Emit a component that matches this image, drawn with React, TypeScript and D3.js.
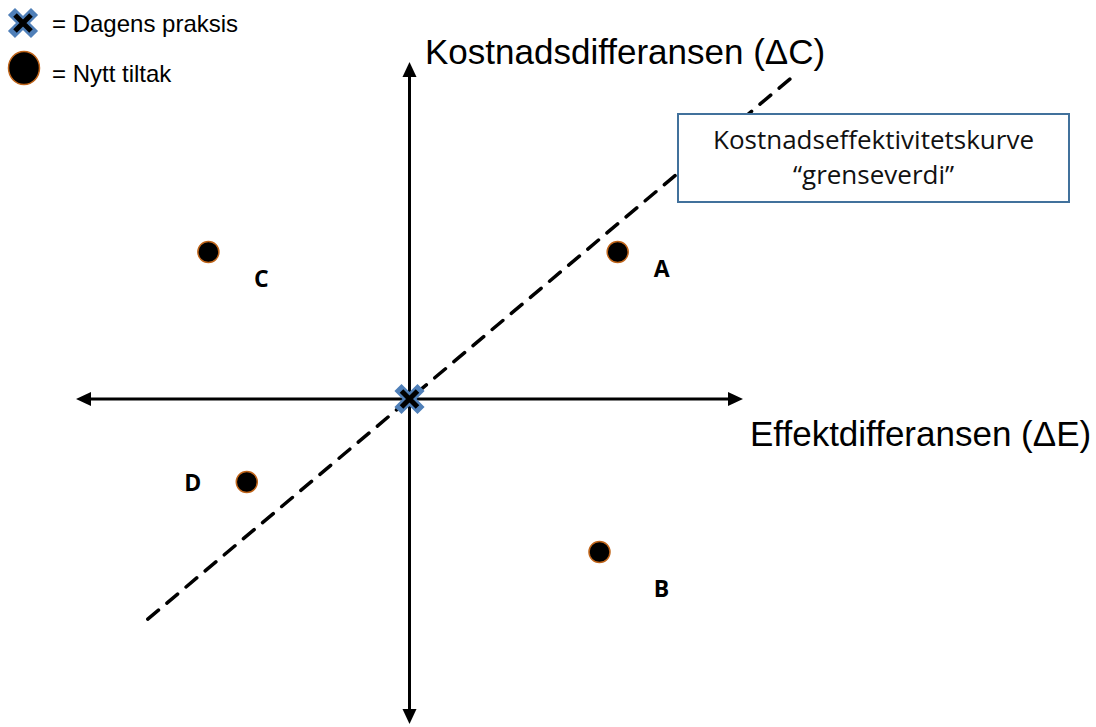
import React from "react";
import * as d3 from "d3";

// ---- data ----
const pointNames = ["A", "B", "C", "D"];
const effectDiff = [20.6, 18.8, -19.9, -16.1]; // ΔE
const costDiff = [14.7, -15.3, 14.7, -8.3]; // ΔC
const thresholdSlope = 0.85;
const thresholdRange = [-25.9, 38.3];
const xDomain = [-33, 33];
const yDomain = [-32.5, 33.7];
const xAxisLabel = "Effektdifferansen (ΔE)";
const yAxisLabel = "Kostnadsdifferansen (ΔC)";
const boxLines = ["Kostnadseffektivitetskurve", "\u201Cgrenseverdi\u201D"];
const legendItems = ["= Dagens praksis", "= Nytt tiltak"];

// label offsets (pixels, layout only)
const labelOffset: Record<string, [number, number]> = {
  A: [44, 16],
  B: [62, 36],
  C: [53, 26],
  D: [-54, 0],
};

const W = 1096;
const H = 727;

export default function App() {
  const x = d3.scaleLinear().domain(xDomain).range([76, 743]);
  const y = d3.scaleLinear().domain(yDomain).range([724, 62]);
  const x0 = x(0);
  const y0 = y(0);

  const line = d3
    .line<number>()
    .x((d) => x(d))
    .y((d) => y(d * thresholdSlope));

  const ah = 15; // arrow length
  const aw = 7; // arrow half width
  const xL = x(xDomain[0]);
  const xR = x(xDomain[1]);
  const yT = y(yDomain[1]);
  const yB = y(yDomain[0]);

  const sans = "'Liberation Sans', Arial, sans-serif";
  const calib = "'Open Sans', Lato, sans-serif";

  const xMark = (cx: number, cy: number, s: number) =>
    `M${cx - s},${cy - s}L${cx + s},${cy + s}M${cx + s},${cy - s}L${cx - s},${cy + s}`;

  return (
    <svg
      width={W}
      height={H}
      style={{ position: "absolute", left: 0, top: 0, background: "#fff" }}
    >
      {/* threshold dashed line */}
      <path
        d={line(thresholdRange) || ""}
        fill="none"
        stroke="#000"
        strokeWidth={3.5}
        strokeDasharray="14 11"
        strokeLinecap="round"
      />

      {/* axes */}
      <line x1={xL + ah - 2} x2={xR - ah + 2} y1={y0} y2={y0} stroke="#000" strokeWidth={3} />
      <line x1={x0} x2={x0} y1={yT + ah - 2} y2={yB - ah + 2} stroke="#000" strokeWidth={3} />
      <path d={`M${xL},${y0}L${xL + ah},${y0 - aw}L${xL + ah},${y0 + aw}Z`} fill="#000" />
      <path d={`M${xR},${y0}L${xR - ah},${y0 - aw}L${xR - ah},${y0 + aw}Z`} fill="#000" />
      <path d={`M${x0},${yT}L${x0 - aw},${yT + ah}L${x0 + aw},${yT + ah}Z`} fill="#000" />
      <path d={`M${x0},${yB}L${x0 - aw},${yB - ah}L${x0 + aw},${yB - ah}Z`} fill="#000" />

      {/* axis labels */}
      <text x={425} y={64} fontFamily={sans} fontSize={35} fill="#000">
        {yAxisLabel}
      </text>
      <text x={750} y={446} fontFamily={sans} fontSize={35} fill="#000">
        {xAxisLabel}
      </text>

      {/* origin marker */}
      <path d={xMark(x0, y0, 8)} stroke="#4f7fb8" strokeWidth={10} strokeLinecap="square" />
      <path d={xMark(x0, y0, 8)} stroke="#000" strokeWidth={5} strokeLinecap="butt" />

      {/* points */}
      {pointNames.map((n, i) => (
        <g key={n}>
          <circle
            cx={x(effectDiff[i])}
            cy={y(costDiff[i])}
            r={10.5}
            fill="#000"
            stroke="#c0651a"
            strokeWidth={1.5}
          />
          <text
            x={x(effectDiff[i]) + labelOffset[n][0]}
            y={y(costDiff[i]) + labelOffset[n][1]}
            fontFamily={calib}
            fontWeight={700}
            fontSize={23}
            textAnchor="middle"
            dominantBaseline="central"
            fill="#000"
          >
            {n}
          </text>
        </g>
      ))}

      {/* annotation box */}
      <rect x={678} y={114} width={391} height={88} fill="#fff" stroke="#41719c" strokeWidth={2} />
      {boxLines.map((t, i) => (
        <text
          key={i}
          x={873.5}
          y={149 + i * 35}
          fontFamily={calib}
          fontSize={26}
          textAnchor="middle"
          fill="#111"
        >
          {t}
        </text>
      ))}

      {/* legend */}
      <path d={xMark(23, 23, 8)} stroke="#4f7fb8" strokeWidth={10} strokeLinecap="square" />
      <path d={xMark(23, 23, 8)} stroke="#000" strokeWidth={5} strokeLinecap="butt" />
      <text x={52} y={32} fontFamily={sans} fontSize={24} fill="#000">
        {legendItems[0]}
      </text>
      <ellipse cx={24} cy={68} rx={15.5} ry={16.5} fill="#000" stroke="#c0651a" strokeWidth={1.5} />
      <text x={52} y={82} fontFamily={sans} fontSize={24} fill="#000">
        {legendItems[1]}
      </text>
    </svg>
  );
}
